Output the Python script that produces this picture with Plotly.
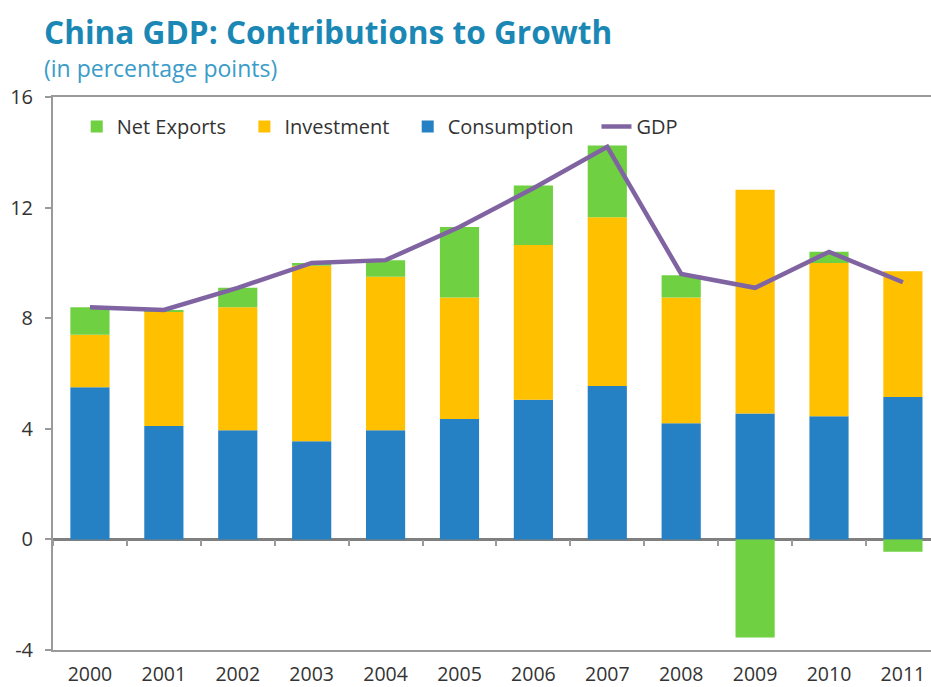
import plotly.graph_objects as go

years = ["2000", "2001", "2002", "2003", "2004", "2005", "2006", "2007", "2008", "2009", "2010", "2011"]
consumption = [5.5, 4.1, 3.95, 3.55, 3.95, 4.35, 5.05, 5.55, 4.2, 4.55, 4.45, 5.15]
investment = [1.9, 4.15, 4.45, 6.35, 5.55, 4.4, 5.6, 6.1, 4.55, 8.1, 5.55, 4.55]
net_exports = [1.0, 0.05, 0.7, 0.1, 0.6, 2.55, 2.15, 2.6, 0.8, -3.55, 0.4, -0.45]
gdp = [8.4, 8.3, 9.1, 10.0, 10.1, 11.3, 12.7, 14.2, 9.6, 9.1, 10.4, 9.3]
y_ticks = [-4, 0, 4, 8, 12, 16]
y_tick_labels = ["-4", "0", "4", "8", "12", "16"]

FONT = "Open Sans"
fig = go.Figure()
fig.add_trace(go.Bar(x=years, y=consumption, name="Consumption", marker=dict(color="#2581c4", line=dict(width=0)), legend="legend3"))
fig.add_trace(go.Bar(x=years, y=investment, name="Investment", marker=dict(color="#ffc000", line=dict(width=0)), legend="legend2"))
fig.add_trace(go.Bar(x=years, y=net_exports, name="Net Exports", marker=dict(color="#6fd042", line=dict(width=0)), legend="legend"))
fig.add_trace(go.Scatter(x=years, y=gdp, name="GDP", mode="lines", line=dict(color="#8064a2", width=4.5), legend="legend4"))

# overlay axis used only to draw the category-boundary ticks on the zero line
fig.add_trace(go.Scatter(x=years, y=[None]*len(years), xaxis="x2", showlegend=False, hoverinfo="skip"))

def leg(x):
    return dict(orientation="h", x=x, y=0.982, xanchor="left", yanchor="top",
                font=dict(size=20, family=FONT, color="#333333"),
                itemwidth=30, bgcolor="rgba(0,0,0,0)")

fig.update_layout(
    width=931, height=687,
    margin=dict(l=53, r=0, t=97, b=37),
    paper_bgcolor="white", plot_bgcolor="white",
    barmode="relative", bargap=0.47,
    font=dict(family=FONT, color="#333333"),
    showlegend=True,
    legend=leg(0.027), legend2=leg(0.218), legend3=leg(0.404), legend4=leg(0.619),
    xaxis=dict(type="category", range=[-0.5, 11.38], showgrid=False, zeroline=False,
               showline=True, linecolor="#9a9a9a", linewidth=2, mirror=True,
               ticks="", ticklabelstandoff=6, automargin=False,
               tickfont=dict(size=19.5, family=FONT, color="#333333")),
    xaxis2=dict(type="category", overlaying="x", anchor="free", position=0.2,
                range=[-0.5, 11.38], showgrid=False, zeroline=False, showline=False,
                ticks="outside", ticklen=6, tickwidth=2, tickcolor="#9a9a9a",
                tickson="boundaries", showticklabels=False, matches="x", automargin=False),
    yaxis=dict(range=[-4, 16], tickvals=y_ticks, ticktext=y_tick_labels, showgrid=False, zeroline=True,
               zerolinecolor="#7f7f7f", zerolinewidth=3,
               showline=True, linecolor="#9a9a9a", linewidth=2, mirror=False,
               ticks="outside", ticklen=6, tickwidth=2, tickcolor="#9a9a9a",
               ticklabelstandoff=8, automargin=False,
               tickfont=dict(size=20, family=FONT, color="#333333")),
)

fig.add_annotation(text="<b>China GDP: Contributions to Growth</b>", xref="paper", yref="paper",
                   x=-0.012, y=1.0, xanchor="left", yanchor="bottom", yshift=42, showarrow=False,
                   font=dict(size=31.6, family=FONT, color="#1a87b5"))
fig.add_annotation(text="(in percentage points)", xref="paper", yref="paper",
                   x=-0.012, y=1.0, xanchor="left", yanchor="bottom", yshift=11, showarrow=False,
                   font=dict(size=23, family=FONT, color="#3a9cc8"))

fig.write_html("out.html")
